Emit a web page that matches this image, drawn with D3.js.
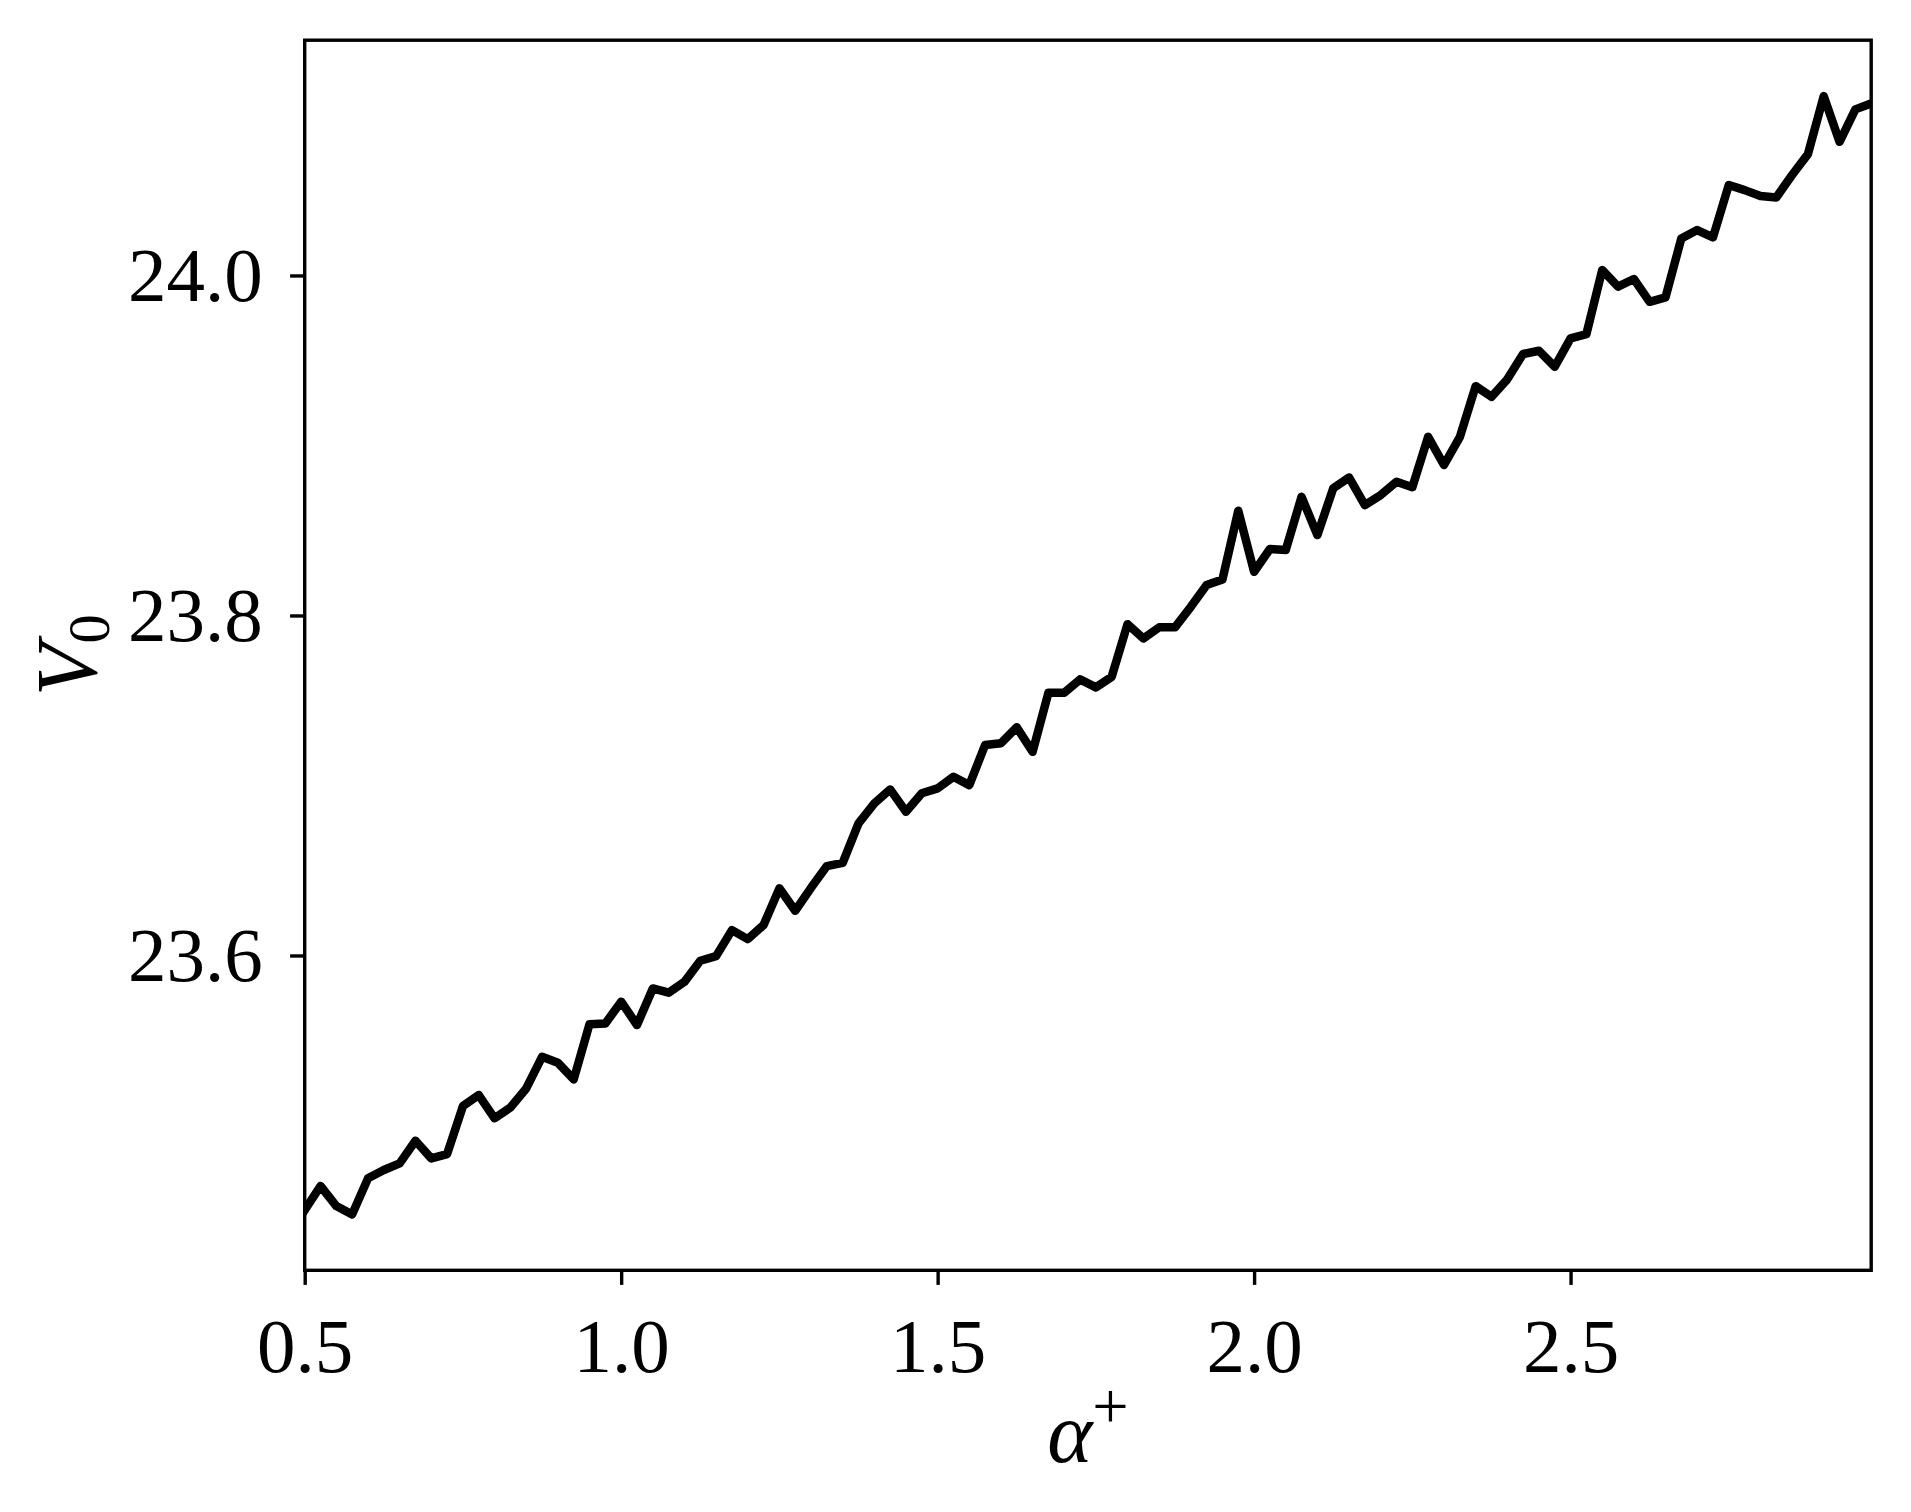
<!DOCTYPE html>
<html><head><meta charset="utf-8">
<script src="https://cdn.jsdelivr.net/npm/d3@7"></script>
<style>body{margin:0;background:#fff;} svg{display:block}</style>
</head><body>
<svg id="chart" width="1911" height="1512"></svg>
<script>
const alphaPlus = [0.5,0.525,0.55,0.575,0.6,0.625,0.65,0.675,0.7,0.725,
  0.75,0.775,0.8,0.825,0.85,0.875,0.9,0.925,0.95,0.975,
  1.0,1.025,1.05,1.075,1.1,1.125,1.15,1.175,1.2,1.225,
  1.25,1.275,1.3,1.325,1.35,1.375,1.4,1.425,1.45,1.475,
  1.5,1.525,1.55,1.575,1.6,1.625,1.65,1.675,1.7,1.725,
  1.75,1.775,1.8,1.825,1.85,1.875,1.9,1.925,1.95,1.975,
  2.0,2.025,2.05,2.075,2.1,2.125,2.15,2.175,2.2,2.225,
  2.25,2.275,2.3,2.325,2.35,2.375,2.4,2.425,2.45,2.475,
  2.5,2.525,2.55,2.575,2.6,2.625,2.65,2.675,2.7,2.725,
  2.75,2.775,2.8,2.825,2.85,2.875,2.9,2.925,2.95,2.975];
const V0 = [23.4502,23.4644,23.4526,23.4477,23.4689,23.4738,23.4777,23.4910,23.4806,23.4832,
  23.5114,23.5179,23.5042,23.5106,23.5218,23.5404,23.5369,23.5271,23.5596,23.5600,
  23.5728,23.5591,23.5806,23.5781,23.5845,23.5969,23.5996,23.6149,23.6096,23.6179,
  23.6395,23.6263,23.6398,23.6526,23.6545,23.6777,23.6895,23.6977,23.6845,23.6954,
  23.6983,23.7051,23.7002,23.7238,23.7248,23.7342,23.7198,23.7545,23.7545,23.7624,
  23.7577,23.7639,23.7949,23.7865,23.7930,23.7930,23.8051,23.8179,23.8212,23.8616,
  23.8257,23.8391,23.8385,23.8698,23.8473,23.8748,23.8812,23.8649,23.8708,23.8786,
  23.8754,23.9051,23.8885,23.9049,23.9349,23.9286,23.9389,23.9538,23.9557,23.9463,
  23.9630,23.9655,24.0032,23.9934,23.9979,23.9845,23.9871,24.0218,24.0267,24.0224,
  24.0532,24.0502,24.0467,24.0459,24.0591,24.0714,24.1055,24.0786,24.0977,24.1012];
const xTicks = [0.5, 1.0, 1.5, 2.0, 2.5];
const yTicks = [23.6, 23.8, 24.0];

const svg = d3.select("#chart");
const L = 304.7, R = 1871.2, T = 40.2, B = 1270.3;
const fontFam = "'Liberation Serif','DejaVu Serif',serif";
const tickFont = 77, labelFont = 86;

const x = d3.scaleLinear().domain(d3.extent(alphaPlus)).range([L, R]);
const [ymin, ymax] = d3.extent(V0);
const pad = (ymax - ymin) * 0.05;
const y = d3.scaleLinear().domain([ymin - pad, ymax + pad]).range([B, T]);

svg.append("rect").attr("width",1911).attr("height",1512).attr("fill","#fff");

svg.append("clipPath").attr("id","clip").append("rect")
  .attr("x",L).attr("y",T).attr("width",R-L).attr("height",B-T);

const line = d3.line().x((d,i)=>x(alphaPlus[i])).y(d=>y(d));
svg.append("path").datum(V0)
  .attr("d", line)
  .attr("fill","none").attr("stroke","#000").attr("stroke-width",8.5)
  .attr("stroke-linejoin","round").attr("stroke-linecap","square")
  .attr("clip-path","url(#clip)");

// frame
svg.append("rect").attr("x",L).attr("y",T).attr("width",R-L).attr("height",B-T)
  .attr("fill","none").attr("stroke","#000").attr("stroke-width",3.4);

const xAxis = d3.axisBottom(x).tickValues(xTicks).tickFormat(d3.format(".1f"))
  .tickSize(14.6).tickPadding(14.6);
const gx = svg.append("g").attr("transform",`translate(0,${B})`).call(xAxis);
gx.select(".domain").remove();
gx.selectAll(".tick line").attr("stroke","#000").attr("stroke-width",3.4);
gx.selectAll(".tick text").attr("font-family",fontFam).attr("font-size",tickFont)
  .attr("fill","#000").attr("dy",null).attr("y",102);

const yAxis = d3.axisLeft(y).tickValues(yTicks).tickFormat(d3.format(".1f"))
  .tickSize(14.6).tickPadding(14.6);
const gy = svg.append("g").attr("transform",`translate(${L},0)`).call(yAxis);
gy.select(".domain").remove();
gy.selectAll(".tick line").attr("stroke","#000").attr("stroke-width",3.4);
gy.selectAll(".tick text").attr("font-family",fontFam).attr("font-size",tickFont)
  .attr("fill","#000").attr("x",-42).attr("dy","0.33em");

// x label: alpha^+
const xl = svg.append("text").attr("x",(L+R)/2).attr("y",1462)
  .attr("text-anchor","middle").attr("font-family",fontFam).attr("font-size",labelFont).attr("fill","#000");
xl.append("tspan").attr("font-style","italic").text("α");
xl.append("tspan").attr("font-size",labelFont*0.75).attr("dy",-labelFont*0.4).text("+");

// y label: V_0
const yl = svg.append("text").attr("transform",`translate(96,${(T+B)/2}) rotate(-90)`)
  .attr("text-anchor","middle").attr("font-family",fontFam).attr("font-size",labelFont).attr("fill","#000");
yl.append("tspan").attr("font-style","italic").text("V");
yl.append("tspan").attr("font-size",labelFont*0.68).attr("dy",labelFont*0.15).text("0");
</script>
</body></html>
